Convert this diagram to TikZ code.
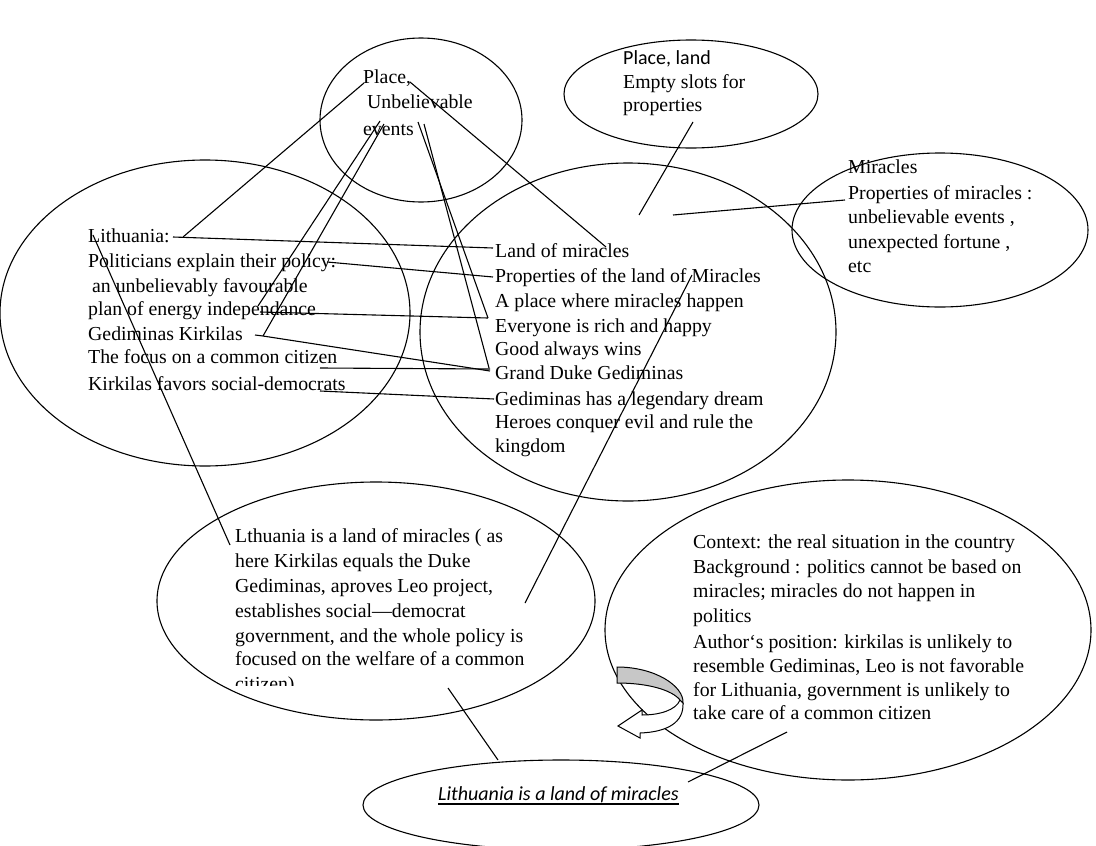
\documentclass[tikz,border=0pt]{standalone}
\usepackage{fontspec}
\setmainfont{Liberation Serif}
\newfontfamily\labelsans{Carlito}
\usetikzlibrary{shapes.geometric}
\begin{document}
\begin{tikzpicture}[x=1pt,y=-1pt,
  bubble/.style={ellipse, draw, line width=1.1pt, inner sep=0pt},
  txt/.style={anchor=base west, inner sep=0pt, font=\fontsize{19.8}{24}\selectfont},
  link/.style={line width=1.1pt}]
\useasboundingbox[fill=white] (0,0) rectangle (1096,846);

% the eight spaces
\node[bubble, minimum width=202pt, minimum height=164pt] (place) at (421,120) {};
\node[bubble, minimum width=254pt, minimum height=108pt] (slots) at (691,94) {};
\node[bubble, minimum width=296pt, minimum height=154pt] (miracles) at (940,230) {};
\node[bubble, minimum width=410pt, minimum height=306pt] (lith) at (205,313) {};
\node[bubble, minimum width=416pt, minimum height=338pt] (land) at (628,332) {};
\node[bubble, minimum width=438pt, minimum height=238pt] (blend) at (376,601) {};
\node[bubble, minimum width=486pt, minimum height=300pt] (context) at (848,630) {};
\node[bubble, minimum width=396pt, minimum height=90pt] (claim) at (561,805) {};

% generic space
\node[txt] (p1) at (363,83) {Place,};
\node[txt] (p2) at (367,108) {Unbelievable};
\node[txt] (p3) at (363,135) {events};

% slots
\node[txt, font=\labelsans\fontsize{20}{24}\selectfont] (s1) at (623,64) {Place, land};
\node[txt] (s2) at (623,88) {Empty slots for};
\node[txt] (s3) at (623,111) {properties};

% miracles
\node[txt] (m1) at (848,173) {Miracles};
\node[txt] (m2) at (848,199) {Properties of miracles :};
\node[txt] (m3) at (848,223) {unbelievable events ,};
\node[txt] (m4) at (848,248) {unexpected fortune ,};
\node[txt] (m5) at (848,272) {etc};

% Lithuania input
\node[txt] (l1) at (88,242) {Lithuania:};
\node[txt] (l2) at (88,267) {Politicians explain their policy:};
\node[txt] (l3) at (92,292) {an unbelievably favourable};
\node[txt] (l4) at (88,315) {plan of energy independance};
\node[txt] (l5) at (88,340) {Gediminas Kirkilas};
\node[txt] (l6) at (88,363) {The focus on a common citizen};
\node[txt] (l7) at (88,390) {Kirkilas favors social-democrats};

% land of miracles input
\node[txt] (d1) at (495,257) {Land of miracles};
\node[txt] (d2) at (495,282) {Properties of the land of Miracles};
\node[txt] (d3) at (495,307) {A place where miracles happen};
\node[txt] (d4) at (495,332) {Everyone is rich and happy};
\node[txt] (d5) at (495,355) {Good always wins};
\node[txt] (d6) at (495,379) {Grand Duke Gediminas};
\node[txt] (d7) at (495,405) {Gediminas has a legendary dream};
\node[txt] (d8) at (495,428) {Heroes conquer evil and rule the};
\node[txt] (d9) at (495,452) {kingdom};

% blend
\node[txt] (b1) at (235,542) {Lthuania is a land of miracles ( as};
\node[txt] (b2) at (235,567) {here Kirkilas equals the Duke};
\node[txt] (b3) at (235,592) {Gediminas, aproves Leo project,};
\node[txt] (b4) at (235,617) {establishes social—democrat};
\node[txt] (b5) at (235,642) {government, and the whole policy is};
\node[txt] (b6) at (235,665) {focused on the welfare of a common};
\begin{scope}
  \clip (200,660) rectangle (600,685);
  \node[txt] (b7) at (235,690) {citizen)};
\end{scope}

% context
\node[txt] (c1) at (693,548) {Context: the real situation in the country};
\node[txt] (c2) at (693,573) {Background : politics cannot be based on};
\node[txt] (c3) at (693,597) {miracles; miracles do not happen in};
\node[txt] (c4) at (693,622) {politics};
\node[txt] (c5) at (693,648) {Author‘s position: kirkilas is unlikely to};
\node[txt] (c6) at (693,672) {resemble Gediminas, Leo is not favorable};
\node[txt] (c7) at (693,696) {for Lithuania, government is unlikely to};
\node[txt] (c8) at (693,719) {take care of a common citizen};

% emergent claim
\node[txt, font=\labelsans\itshape\fontsize{20}{24}\selectfont] (claimtext) at (438,800) {Lithuania is a land of miracles};
\draw[line width=1.4pt] ([yshift=-4pt]claimtext.base west) -- ([yshift=-4pt]claimtext.base east);

% connector ends
\coordinate (aPlace) at (364,83);
\coordinate (aLith) at (183,237);
\coordinate (aPlaceR) at (410,82);
\coordinate (aLandM) at (606,247);
\coordinate (aEv1) at (380,121);
\coordinate (aIndep) at (258,306);
\coordinate (aEv2) at (384,124);
\coordinate (aKirk) at (263,336);
\coordinate (aEv3) at (418,122);
\coordinate (aEvery) at (488,318);
\coordinate (aEv4) at (424,124);
\coordinate (aGrand) at (489,368);
\coordinate (aLithE) at (173,237);
\coordinate (aLand) at (493,248);
\coordinate (aPolicy) at (327,262);
\coordinate (aProp) at (493,277);
\coordinate (aIndepE) at (260,312);
\coordinate (aKirkE) at (255,335);
\coordinate (aGrand2) at (490,371);
\coordinate (aCitizen) at (320,368);
\coordinate (aGrand3) at (490,369);
\coordinate (aSocial) at (320,391);
\coordinate (aDream) at (494,399);
\coordinate (aMir) at (692,275);
\coordinate (aBlendR) at (525,603);
\coordinate (aSlots) at (693,122);
\coordinate (aLandTop) at (639,215);
\coordinate (aMirProp) at (845,200);
\coordinate (aLandTop2) at (673,215);
\coordinate (aLithL) at (93,235);
\coordinate (aBlendL) at (230,545);
\coordinate (aBlendB) at (448,688);
\coordinate (aClaim) at (498,760);
\coordinate (aCtx) at (787,732);
\coordinate (aClaim2) at (688,782);

% projections between spaces
\draw[link] (aPlace) -- (aLith);
\draw[link] (aPlaceR) -- (aLandM);
\draw[link] (aEv1) -- (aIndep);
\draw[link] (aEv2) -- (aKirk);
\draw[link] (aEv3) -- (aEvery);
\draw[link] (aEv4) -- (aGrand);
\draw[link] (aLithE) -- (aLand);
\draw[link] (aPolicy) -- (aProp);
\draw[link] (aIndepE) -- (aEvery);
\draw[link] (aKirkE) -- (aKirk) -- (aGrand2);
\draw[link] (aCitizen) -- (aGrand3);
\draw[link] (aSocial) -- (aDream);
\draw[link] (aMir) -- (aBlendR);
\draw[link] (aSlots) -- (aLandTop);
\draw[link] (aMirProp) -- (aLandTop2);
\draw[link] (aLithL) -- (aBlendL);
\draw[link] (aBlendB) -- (aClaim);
\draw[link] (aCtx) -- (aClaim2);

% curved feedback arrow
\draw[line width=1pt, fill=white] (683,703) .. controls (684,722) and (668,732) .. (640,733)
  -- (640,738) -- (618,726) -- (642,710) -- (642,715)
  .. controls (660,715) and (676,710) .. (680,700) -- cycle;
\draw[line width=1pt, fill=black!22] (617,667) .. controls (655,667) and (684,686) .. (683,703)
  -- (680,700) .. controls (672,690) and (648,683) .. (617,683) -- cycle;
\end{tikzpicture}
\end{document}
